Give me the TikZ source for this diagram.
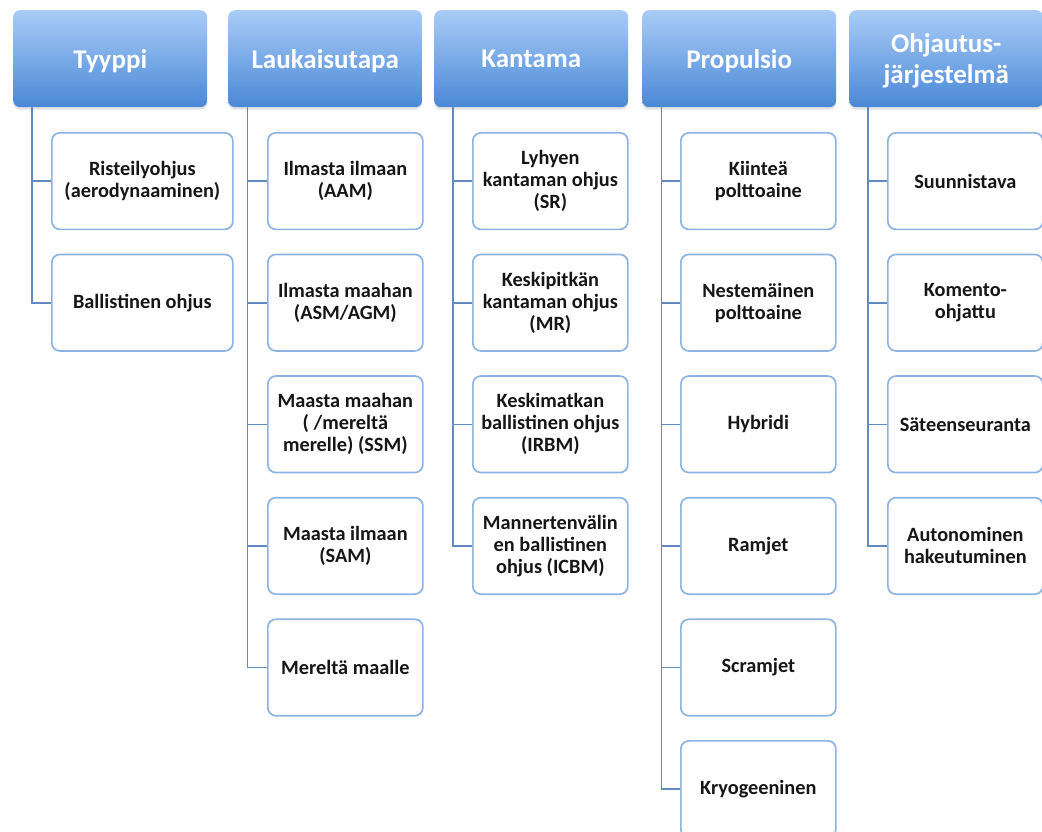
\documentclass[tikz,border=0pt]{standalone}
\usepackage{fontspec}
\setmainfont{Carlito}
\usetikzlibrary{positioning,shadows}

\definecolor{hdrtop}{HTML}{A9CCF7}
\definecolor{hdrbot}{HTML}{4A88D6}
\definecolor{boxline}{HTML}{8DB3E2}
\definecolor{linkline}{HTML}{5F8BC2}
\definecolor{txtdark}{HTML}{161616}

\begin{document}
\begin{tikzpicture}[x=1pt, y=-1pt,
    hdr/.style={rounded corners=7pt, top color=hdrtop, bottom color=hdrbot,
                text=white, font=\fontsize{27}{31}\selectfont\bfseries,
                align=center, minimum width=194pt, minimum height=97pt,
                anchor=north west, inner sep=2pt, text depth=-6pt,
                drop shadow={shadow xshift=0pt, shadow yshift=-2.5pt, opacity=0.22}},
    item/.style={draw=boxline, line width=1.7pt, fill=white, rounded corners=8pt,
                text=txtdark, font=\fontsize{20.3}{22}\selectfont\bfseries,
                align=center, minimum width=155pt, minimum height=96.5pt, inner sep=2pt},
    link/.style={draw=linkline, line width=1.6pt}
  ]
    \useasboundingbox (0,0) rectangle (1042,832);

    % column headers
    \node[hdr] (t1) at (13,10)  {Tyyppi};
    \node[hdr] (t2) at (228,10) {Laukaisutapa};
    \node[hdr] (t3) at (434,10) {Kantama};
    \node[hdr] (t4) at (642,10) {Propulsio};
    \node[hdr] (t5) at (849,10) {Ohjautus-\\järjestelmä};

    % Tyyppi
    \node[item, anchor=north west, minimum width=181pt] (c11) at (51,132) {Risteilyohjus\\(aerodynaaminen)};
    \node[item, minimum width=181pt, below=23.4pt of c11] (c12) {Ballistinen ohjus};

    % Laukaisutapa
    \node[item, anchor=north west] (c21) at (267,132) {Ilmasta ilmaan\\(AAM)};
    \node[item, below=23.4pt of c21] (c22) {Ilmasta maahan\\(ASM/AGM)};
    \node[item, below=23.4pt of c22] (c23) {Maasta maahan\\( /mereltä\\merelle) (SSM)};
    \node[item, below=23.4pt of c23] (c24) {Maasta ilmaan\\(SAM)};
    \node[item, below=23.4pt of c24] (c25) {Mereltä maalle};

    % Kantama
    \node[item, anchor=north west] (c31) at (472,132) {Lyhyen\\kantaman ohjus\\(SR)};
    \node[item, below=23.4pt of c31] (c32) {Keskipitkän\\kantaman ohjus\\(MR)};
    \node[item, below=23.4pt of c32] (c33) {Keskimatkan\\ballistinen ohjus\\(IRBM)};
    \node[item, below=23.4pt of c33] (c34) {Mannertenvälin\\en ballistinen\\ohjus (ICBM)};

    % Propulsio
    \node[item, anchor=north west] (c41) at (680,132) {Kiinteä\\polttoaine};
    \node[item, below=23.4pt of c41] (c42) {Nestemäinen\\polttoaine};
    \node[item, below=23.4pt of c42] (c43) {Hybridi};
    \node[item, below=23.4pt of c43] (c44) {Ramjet};
    \node[item, below=23.4pt of c44] (c45) {Scramjet};
    \node[item, below=23.4pt of c45] (c46) {Kryogeeninen};

    % Ohjautusjärjestelmä
    \node[item, anchor=north west] (c51) at (887,132) {Suunnistava};
    \node[item, below=23.4pt of c51] (c52) {Komento-\\ohjattu};
    \node[item, below=23.4pt of c52] (c53) {Säteenseuranta};
    \node[item, below=23.4pt of c53] (c54) {Autonominen\\hakeutuminen};

    % trunk points under the headers
    \coordinate (r1) at ([xshift=19pt]t1.south west);
    \coordinate (r2) at ([xshift=19.5pt]t2.south west);
    \coordinate (r3) at ([xshift=19pt]t3.south west);
    \coordinate (r4) at ([xshift=19.5pt]t4.south west);
    \coordinate (r5) at ([xshift=19pt]t5.south west);

    \draw[link] (r1) |- (c11.west);
    \draw[link] (r1) |- (c12.west);

    \draw[link] (r2) |- (c21.west);
    \draw[link] (r2) |- (c22.west);
    \draw[link] (r2) |- (c23.west);
    \draw[link] (r2) |- (c24.west);
    \draw[link] (r2) |- (c25.west);

    \draw[link] (r3) |- (c31.west);
    \draw[link] (r3) |- (c32.west);
    \draw[link] (r3) |- (c33.west);
    \draw[link] (r3) |- (c34.west);

    \draw[link] (r4) |- (c41.west);
    \draw[link] (r4) |- (c42.west);
    \draw[link] (r4) |- (c43.west);
    \draw[link] (r4) |- (c44.west);
    \draw[link] (r4) |- (c45.west);
    \draw[link] (r4) |- (c46.west);

    \draw[link] (r5) |- (c51.west);
    \draw[link] (r5) |- (c52.west);
    \draw[link] (r5) |- (c53.west);
    \draw[link] (r5) |- (c54.west);
  \end{tikzpicture}
\end{document}
